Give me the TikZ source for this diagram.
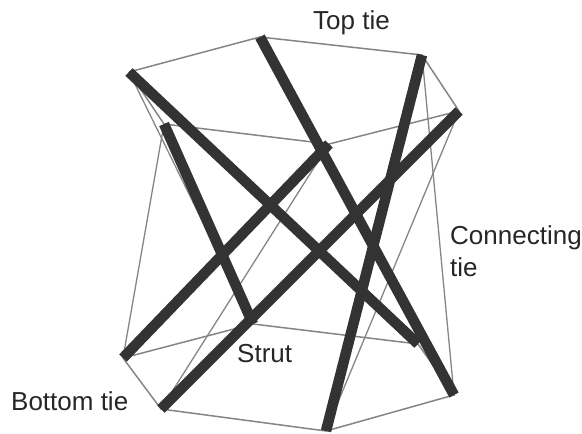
\documentclass[tikz,border=0pt]{standalone}
\usepackage{fontspec}
\setmainfont{Liberation Sans}
\definecolor{strutc}{HTML}{333333}
\definecolor{tiec}{HTML}{858585}
\tikzset{
  strutline/.style={draw=strutc,line width=10.5pt,line cap=butt},
  tieline/.style={draw=tiec,line width=1.5pt},
  connline/.style={draw=tiec,line width=1.3pt},
  lab/.style={inner sep=0pt,anchor=base west,text=black!85,font=\fontsize{26}{30}\selectfont}
}
\begin{document}
\begin{tikzpicture}[x=1pt,y=-1pt]
\useasboundingbox (0,0) rectangle (582,434);
\coordinate (A) at (129,72);
\coordinate (B) at (260,37);
\coordinate (C) at (422,55);
\coordinate (D) at (459,111);
\coordinate (E) at (329,144);
\coordinate (F) at (164,124);
\coordinate (a) at (418,344);
\coordinate (b) at (454,395);
\coordinate (c) at (326,431);
\coordinate (d) at (161,409);
\coordinate (e) at (123,358);
\coordinate (f) at (253,324);
% top ties
\draw[tieline] (A)--(B)--(C)--(D)--(E)--(F)--(A);
% bottom ties
\draw[tieline] (e)--(f)--(a)--(b)--(c)--(d)--(e);
% connecting ties
\draw[connline] (F)--(e);
\draw[connline] (E)--(d);
\draw[connline] (D)--(c);
\draw[connline] (C)--(b);
\draw[connline] (A)--(f);
% struts
\draw[strutline] (F)--(f);
\draw[strutline] (E)--(e);
\draw[strutline] (B)--(b);
\draw[strutline] (A)--(a);
\draw[strutline] (D)--(d);
\draw[strutline] (C)--(c);
% labels
\node[lab] (toplab) at (313,29) {Top tie};
\node[lab] (conlab) at (450,244) {Connecting};
\node[lab] (conlab2) at (450,276) {tie};
\node[lab] (strutlab) at (237,362) {Strut};
\node[lab] (botlab) at (11,410) {Bottom tie};
\end{tikzpicture}
\end{document}
